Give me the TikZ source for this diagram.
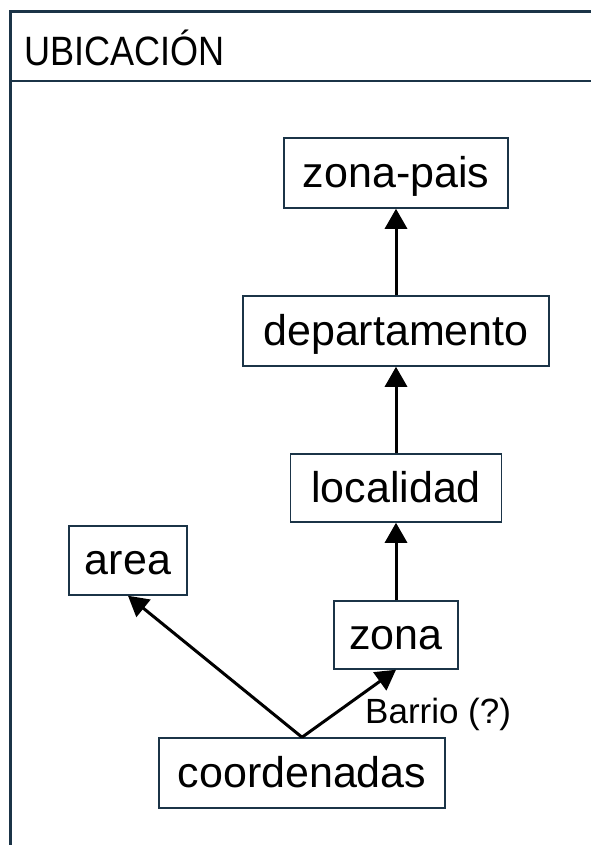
\documentclass[tikz,border=0pt]{standalone}
\usepackage{fontspec}
\setmainfont{Liberation Sans}
\newfontfamily\titlefont[FakeStretch=0.88]{Liberation Sans}
\usetikzlibrary{arrows.meta}
\definecolor{framecol}{HTML}{1B3447}
\begin{document}
\begin{tikzpicture}[x=1pt,y=-1pt,
  box/.style={draw=framecol, line width=1.5pt, fill=white, inner sep=0pt,
    font=\fontsize{43}{50}\selectfont, text height=32pt, text depth=4pt},
  link/.style={line width=3pt, -{Triangle[width=22pt,length=20pt]}},
  framebold/.style={draw=framecol, line width=3pt},
  framethin/.style={draw=framecol, line width=1.5pt}]
\useasboundingbox (0,0) rectangle (590,845);
% frame
\draw[framebold] (592,12) -- (10,12) -- (10,847);
\draw[framethin] (10,81) -- (592,81);
\node[anchor=base west, inner sep=0pt, font=\titlefont\fontsize{41}{46}\selectfont] (title) at (24,66) {UBICACIÓN};
% nodes
\node[box, minimum width=224pt, minimum height=70pt] (zp) at (396,173) {zona-pais};
\node[box, minimum width=306pt, minimum height=70pt] (dep) at (396,331) {departamento};
\node[box, minimum width=211pt, minimum height=68pt] (loc) at (396,488) {localidad};
\node[box, minimum width=124pt, minimum height=68pt] (zona) at (396,635) {zona};
\node[box, minimum width=118pt, minimum height=69pt] (area) at (128,560.5) {area};
\node[box, minimum width=286pt, minimum height=70pt] (coord) at (302,773) {coordenadas};
\coordinate (fork) at (coord.north);
% connectors
\draw[link] (zona.north) -- (loc.south);
\draw[link] (loc.north) -- (dep.south);
\draw[link] (dep.north) -- (zp.south);
\draw[link] (fork) -- (area.south);
\draw[link] (fork) -- (zona.south);
\node[anchor=base west, inner sep=0pt, font=\fontsize{35}{40}\selectfont] (barrio) at (365,723) {Barrio (?)};
\end{tikzpicture}
\end{document}
